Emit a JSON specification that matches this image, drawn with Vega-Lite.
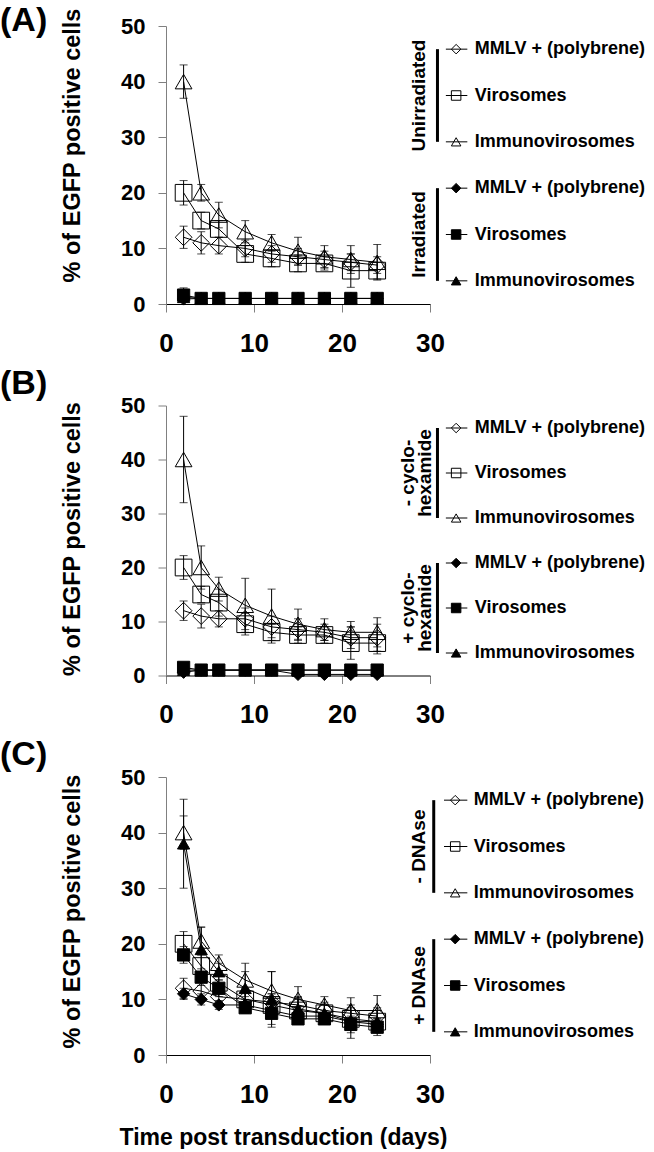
{
  "$schema": "https://vega.github.io/schema/vega-lite/v6.json",
  "background": "white",
  "padding": {"left": 0, "top": 3, "right": 0, "bottom": 0},
  "bounds": "flush",
  "columns": 2,
  "spacing": {"row": 101.5, "column": 0},
  "datasets": {
    "pts": [
      {"p":"A","c":"o","s":"MMLV","d":2,"v":12,"e":2},{"p":"A","c":"o","s":"MMLV","d":4,"v":11,"e":2},{"p":"A","c":"o","s":"MMLV","d":6,"v":10.5,"e":1.5},{"p":"A","c":"o","s":"MMLV","d":9,"v":10,"e":1.5},{"p":"A","c":"o","s":"MMLV","d":12,"v":9,"e":1.5},{"p":"A","c":"o","s":"MMLV","d":15,"v":8.5,"e":1.5},{"p":"A","c":"o","s":"MMLV","d":18,"v":8,"e":1.5},{"p":"A","c":"o","s":"MMLV","d":21,"v":7.5,"e":1.5},{"p":"A","c":"o","s":"MMLV","d":24,"v":7,"e":1.5},
      {"p":"A","c":"o","s":"Viro","d":2,"v":20,"e":2.2},{"p":"A","c":"o","s":"Viro","d":4,"v":15,"e":1.5},{"p":"A","c":"o","s":"Viro","d":6,"v":13.5,"e":1.5},{"p":"A","c":"o","s":"Viro","d":9,"v":9,"e":1.5},{"p":"A","c":"o","s":"Viro","d":12,"v":8.2,"e":1.5},{"p":"A","c":"o","s":"Viro","d":15,"v":7.3,"e":1.5},{"p":"A","c":"o","s":"Viro","d":18,"v":7.3,"e":1.2},{"p":"A","c":"o","s":"Viro","d":21,"v":6,"e":3},{"p":"A","c":"o","s":"Viro","d":24,"v":6,"e":1.5},
      {"p":"A","c":"o","s":"Immuno","d":2,"v":40,"e":3},{"p":"A","c":"o","s":"Immuno","d":4,"v":20,"e":1.5},{"p":"A","c":"o","s":"Immuno","d":6,"v":16,"e":2.3},{"p":"A","c":"o","s":"Immuno","d":9,"v":13,"e":2},{"p":"A","c":"o","s":"Immuno","d":12,"v":11,"e":1.5},{"p":"A","c":"o","s":"Immuno","d":15,"v":9.5,"e":2.5},{"p":"A","c":"o","s":"Immuno","d":18,"v":8.5,"e":2},{"p":"A","c":"o","s":"Immuno","d":21,"v":8,"e":2.5},{"p":"A","c":"o","s":"Immuno","d":24,"v":7.5,"e":3.2},
      {"p":"A","c":"f","s":"MMLV","d":2,"v":0.9,"e":0},{"p":"A","c":"f","s":"MMLV","d":4,"v":1,"e":0},{"p":"A","c":"f","s":"MMLV","d":6,"v":1,"e":0},{"p":"A","c":"f","s":"MMLV","d":9,"v":1,"e":0},{"p":"A","c":"f","s":"MMLV","d":12,"v":1,"e":0},{"p":"A","c":"f","s":"MMLV","d":15,"v":1,"e":0},{"p":"A","c":"f","s":"MMLV","d":18,"v":1,"e":0},{"p":"A","c":"f","s":"MMLV","d":21,"v":1,"e":0},{"p":"A","c":"f","s":"MMLV","d":24,"v":1,"e":0},
      {"p":"A","c":"f","s":"Immuno","d":2,"v":1.2,"e":0},{"p":"A","c":"f","s":"Immuno","d":4,"v":1,"e":0},{"p":"A","c":"f","s":"Immuno","d":6,"v":1,"e":0},{"p":"A","c":"f","s":"Immuno","d":9,"v":1,"e":0},{"p":"A","c":"f","s":"Immuno","d":12,"v":1,"e":0},{"p":"A","c":"f","s":"Immuno","d":15,"v":1,"e":0},{"p":"A","c":"f","s":"Immuno","d":18,"v":1,"e":0},{"p":"A","c":"f","s":"Immuno","d":21,"v":1,"e":0},{"p":"A","c":"f","s":"Immuno","d":24,"v":1,"e":0},
      {"p":"A","c":"f","s":"Viro","d":2,"v":1.6,"e":1.3},{"p":"A","c":"f","s":"Viro","d":4,"v":1,"e":0},{"p":"A","c":"f","s":"Viro","d":6,"v":1,"e":0},{"p":"A","c":"f","s":"Viro","d":9,"v":1,"e":0},{"p":"A","c":"f","s":"Viro","d":12,"v":1,"e":0},{"p":"A","c":"f","s":"Viro","d":15,"v":1,"e":0},{"p":"A","c":"f","s":"Viro","d":18,"v":1,"e":0},{"p":"A","c":"f","s":"Viro","d":21,"v":1,"e":0},{"p":"A","c":"f","s":"Viro","d":24,"v":1,"e":0},

      {"p":"B","c":"o","s":"MMLV","d":2,"v":12,"e":1.8},{"p":"B","c":"o","s":"MMLV","d":4,"v":11,"e":2.2},{"p":"B","c":"o","s":"MMLV","d":6,"v":10.5,"e":1.5},{"p":"B","c":"o","s":"MMLV","d":9,"v":10.5,"e":2},{"p":"B","c":"o","s":"MMLV","d":12,"v":9,"e":2},{"p":"B","c":"o","s":"MMLV","d":15,"v":8.5,"e":2},{"p":"B","c":"o","s":"MMLV","d":18,"v":8,"e":1.5},{"p":"B","c":"o","s":"MMLV","d":21,"v":7,"e":2},{"p":"B","c":"o","s":"MMLV","d":24,"v":7,"e":2.5},
      {"p":"B","c":"o","s":"Viro","d":2,"v":20,"e":2.2},{"p":"B","c":"o","s":"Viro","d":4,"v":15,"e":1.5},{"p":"B","c":"o","s":"Viro","d":6,"v":13.5,"e":2.5},{"p":"B","c":"o","s":"Viro","d":9,"v":9.5,"e":2},{"p":"B","c":"o","s":"Viro","d":12,"v":8,"e":1.5},{"p":"B","c":"o","s":"Viro","d":15,"v":7.5,"e":1.5},{"p":"B","c":"o","s":"Viro","d":18,"v":7.5,"e":1.5},{"p":"B","c":"o","s":"Viro","d":21,"v":6,"e":3},{"p":"B","c":"o","s":"Viro","d":24,"v":6,"e":2},
      {"p":"B","c":"o","s":"Immuno","d":2,"v":40,"e":8},{"p":"B","c":"o","s":"Immuno","d":4,"v":20,"e":4},{"p":"B","c":"o","s":"Immuno","d":6,"v":16,"e":2.2},{"p":"B","c":"o","s":"Immuno","d":9,"v":13,"e":5},{"p":"B","c":"o","s":"Immuno","d":12,"v":11,"e":5},{"p":"B","c":"o","s":"Immuno","d":15,"v":9.5,"e":2.8},{"p":"B","c":"o","s":"Immuno","d":18,"v":8.5,"e":2},{"p":"B","c":"o","s":"Immuno","d":21,"v":8,"e":2},{"p":"B","c":"o","s":"Immuno","d":24,"v":8,"e":2.7},
      {"p":"B","c":"f","s":"Immuno","d":2,"v":1,"e":0},{"p":"B","c":"f","s":"Immuno","d":4,"v":1,"e":0},{"p":"B","c":"f","s":"Immuno","d":6,"v":1,"e":0},{"p":"B","c":"f","s":"Immuno","d":9,"v":1,"e":0},{"p":"B","c":"f","s":"Immuno","d":12,"v":1,"e":0},{"p":"B","c":"f","s":"Immuno","d":15,"v":1,"e":0},{"p":"B","c":"f","s":"Immuno","d":18,"v":1,"e":0},{"p":"B","c":"f","s":"Immuno","d":21,"v":1,"e":0},{"p":"B","c":"f","s":"Immuno","d":24,"v":1,"e":0},
      {"p":"B","c":"f","s":"MMLV","d":2,"v":0.6,"e":0},{"p":"B","c":"f","s":"MMLV","d":4,"v":1,"e":0},{"p":"B","c":"f","s":"MMLV","d":6,"v":1,"e":0},{"p":"B","c":"f","s":"MMLV","d":9,"v":1,"e":0},{"p":"B","c":"f","s":"MMLV","d":12,"v":1,"e":0},{"p":"B","c":"f","s":"MMLV","d":15,"v":0.2,"e":0},{"p":"B","c":"f","s":"MMLV","d":18,"v":0.2,"e":0},{"p":"B","c":"f","s":"MMLV","d":21,"v":0.2,"e":0},{"p":"B","c":"f","s":"MMLV","d":24,"v":0.2,"e":0},
      {"p":"B","c":"f","s":"Viro","d":2,"v":1.5,"e":0},{"p":"B","c":"f","s":"Viro","d":4,"v":1,"e":0},{"p":"B","c":"f","s":"Viro","d":6,"v":1,"e":0},{"p":"B","c":"f","s":"Viro","d":9,"v":1,"e":0},{"p":"B","c":"f","s":"Viro","d":12,"v":1,"e":0},{"p":"B","c":"f","s":"Viro","d":15,"v":1,"e":0},{"p":"B","c":"f","s":"Viro","d":18,"v":1,"e":0},{"p":"B","c":"f","s":"Viro","d":21,"v":1,"e":0},{"p":"B","c":"f","s":"Viro","d":24,"v":1,"e":0},

      {"p":"C","c":"o","s":"MMLV","d":2,"v":12,"e":1.8},{"p":"C","c":"o","s":"MMLV","d":4,"v":11.5,"e":1.8},{"p":"C","c":"o","s":"MMLV","d":6,"v":10.5,"e":1.5},{"p":"C","c":"o","s":"MMLV","d":9,"v":10,"e":1.5},{"p":"C","c":"o","s":"MMLV","d":12,"v":9.5,"e":1.5},{"p":"C","c":"o","s":"MMLV","d":15,"v":9,"e":1.5},{"p":"C","c":"o","s":"MMLV","d":18,"v":8,"e":1.5},{"p":"C","c":"o","s":"MMLV","d":21,"v":7.5,"e":1.5},{"p":"C","c":"o","s":"MMLV","d":24,"v":7,"e":1.5},
      {"p":"C","c":"o","s":"Viro","d":2,"v":20,"e":2.2},{"p":"C","c":"o","s":"Viro","d":4,"v":16,"e":2},{"p":"C","c":"o","s":"Viro","d":6,"v":13,"e":2},{"p":"C","c":"o","s":"Viro","d":9,"v":10,"e":2},{"p":"C","c":"o","s":"Viro","d":12,"v":9,"e":2},{"p":"C","c":"o","s":"Viro","d":15,"v":8,"e":2},{"p":"C","c":"o","s":"Viro","d":18,"v":7.5,"e":1.5},{"p":"C","c":"o","s":"Viro","d":21,"v":6.5,"e":2},{"p":"C","c":"o","s":"Viro","d":24,"v":6,"e":2},
      {"p":"C","c":"o","s":"Immuno","d":2,"v":40,"e":3},{"p":"C","c":"o","s":"Immuno","d":4,"v":20.5,"e":2.5},{"p":"C","c":"o","s":"Immuno","d":6,"v":16.5,"e":1.5},{"p":"C","c":"o","s":"Immuno","d":9,"v":13.5,"e":3},{"p":"C","c":"o","s":"Immuno","d":12,"v":11.5,"e":3.5},{"p":"C","c":"o","s":"Immuno","d":15,"v":10,"e":2.3},{"p":"C","c":"o","s":"Immuno","d":18,"v":9,"e":1.5},{"p":"C","c":"o","s":"Immuno","d":21,"v":8,"e":2.3},{"p":"C","c":"o","s":"Immuno","d":24,"v":8,"e":2.7},
      {"p":"C","c":"f","s":"MMLV","d":2,"v":11,"e":1},{"p":"C","c":"f","s":"MMLV","d":4,"v":10,"e":1},{"p":"C","c":"f","s":"MMLV","d":6,"v":9,"e":0.8},{"p":"C","c":"f","s":"MMLV","d":9,"v":9,"e":1},{"p":"C","c":"f","s":"MMLV","d":12,"v":8,"e":1},{"p":"C","c":"f","s":"MMLV","d":15,"v":7,"e":1},{"p":"C","c":"f","s":"MMLV","d":18,"v":7,"e":1},{"p":"C","c":"f","s":"MMLV","d":21,"v":6,"e":1},{"p":"C","c":"f","s":"MMLV","d":24,"v":5.5,"e":1},
      {"p":"C","c":"f","s":"Viro","d":2,"v":18,"e":1.5},{"p":"C","c":"f","s":"Viro","d":4,"v":14,"e":1.5},{"p":"C","c":"f","s":"Viro","d":6,"v":12,"e":1.5},{"p":"C","c":"f","s":"Viro","d":9,"v":8.5,"e":1},{"p":"C","c":"f","s":"Viro","d":12,"v":7.5,"e":2},{"p":"C","c":"f","s":"Viro","d":15,"v":6.5,"e":1},{"p":"C","c":"f","s":"Viro","d":18,"v":6.5,"e":1},{"p":"C","c":"f","s":"Viro","d":21,"v":5.5,"e":2.5},{"p":"C","c":"f","s":"Viro","d":24,"v":5,"e":1.5},
      {"p":"C","c":"f","s":"Immuno","d":2,"v":38,"e":8},{"p":"C","c":"f","s":"Immuno","d":4,"v":19,"e":4},{"p":"C","c":"f","s":"Immuno","d":6,"v":15,"e":1.5},{"p":"C","c":"f","s":"Immuno","d":9,"v":12,"e":3},{"p":"C","c":"f","s":"Immuno","d":12,"v":10,"e":5},{"p":"C","c":"f","s":"Immuno","d":15,"v":8.3,"e":2},{"p":"C","c":"f","s":"Immuno","d":18,"v":7.5,"e":1.5},{"p":"C","c":"f","s":"Immuno","d":21,"v":6,"e":2},{"p":"C","c":"f","s":"Immuno","d":24,"v":6,"e":2}
    ],
    "leg": [
      {"p":"A","row":0,"c":"o","s":"MMLV","label":"MMLV + (polybrene)"},{"p":"A","row":1,"c":"o","s":"Viro","label":"Virosomes"},{"p":"A","row":2,"c":"o","s":"Immuno","label":"Immunovirosomes"},
      {"p":"A","row":3,"c":"f","s":"MMLV","label":"MMLV + (polybrene)"},{"p":"A","row":4,"c":"f","s":"Viro","label":"Virosomes"},{"p":"A","row":5,"c":"f","s":"Immuno","label":"Immunovirosomes"},
      {"p":"B","row":0,"c":"o","s":"MMLV","label":"MMLV + (polybrene)"},{"p":"B","row":1,"c":"o","s":"Viro","label":"Virosomes"},{"p":"B","row":2,"c":"o","s":"Immuno","label":"Immunovirosomes"},
      {"p":"B","row":3,"c":"f","s":"MMLV","label":"MMLV + (polybrene)"},{"p":"B","row":4,"c":"f","s":"Viro","label":"Virosomes"},{"p":"B","row":5,"c":"f","s":"Immuno","label":"Immunovirosomes"},
      {"p":"C","row":0,"c":"o","s":"MMLV","label":"MMLV + (polybrene)"},{"p":"C","row":1,"c":"o","s":"Viro","label":"Virosomes"},{"p":"C","row":2,"c":"o","s":"Immuno","label":"Immunovirosomes"},
      {"p":"C","row":3,"c":"f","s":"MMLV","label":"MMLV + (polybrene)"},{"p":"C","row":4,"c":"f","s":"Viro","label":"Virosomes"},{"p":"C","row":5,"c":"f","s":"Immuno","label":"Immunovirosomes"}
    ],
    "grp": [
      {"p":"A","g":"Unirradiated","mid":1,"r0":0,"r1":2},{"p":"A","g":"Irradiated","mid":4,"r0":3,"r1":5},
      {"p":"B","g":"- cyclo-\nhexamide","mid":1,"r0":0,"r1":2},{"p":"B","g":"+ cyclo-\nhexamide","mid":4,"r0":3,"r1":5},
      {"p":"C","g":"- DNAse","mid":1,"r0":0,"r1":2},{"p":"C","g":"+ DNAse","mid":4,"r0":3,"r1":5}
    ]
  },
  "concat": [
    {
      "width": 264, "height": 278,
      "title": {"text": "(A)", "offset": -30},
      "data": {"name": "pts"},
      "transform": [{"filter": "datum.p == 'A'"}],
      "encoding": {
        "x": {"field": "d", "type": "quantitative", "scale": {"domain": [0, 30], "nice": false}, "axis": {"values": [0, 10, 20, 30], "title": null}},
        "y": {"field": "v", "type": "quantitative", "scale": {"domain": [0, 50], "nice": false}, "axis": {"values": [0, 10, 20, 30, 40, 50], "title": "% of EGFP positive cells", "titleY": 119}}
      },
      "layer": [
        {"mark": {"type": "line", "color": "black", "strokeWidth": 1}, "encoding": {"detail": [{"field": "c"}, {"field": "s"}]}},
        {"mark": {"type": "errorbar", "color": "black", "thickness": 1, "ticks": {"size": 8, "thickness": 1, "color": "black"}}, "encoding": {"yError": {"field": "e"}}},
        {"mark": {"type": "point", "filled": true, "fill": "black", "stroke": "black", "strokeWidth": 1, "opacity": 1},
         "encoding": {
           "shape": {"field": "s", "type": "nominal", "scale": {"domain": ["MMLV", "Viro", "Immuno"], "range": ["diamond", "square", "triangle-up"]}, "legend": null},
           "fillOpacity": {"field": "c", "type": "nominal", "scale": {"domain": ["o", "f"], "range": [0, 1]}, "legend": null},
           "size": {"field": "c", "type": "nominal", "scale": {"domain": ["o", "f"], "range": [280, 150]}, "legend": null}
         }}
      ]
    },
    {
      "width": 224, "height": 278,
      "layer": [
        {"data": {"name": "leg"}, "transform": [{"filter": "datum.p == 'A'"}], "mark": {"type": "rule", "color": "black", "strokeWidth": 1},
         "encoding": {"x": {"datum": 17, "type": "quantitative", "scale": {"domain": [0, 224]}, "axis": null}, "x2": {"datum": 40},
                      "y": {"field": "row", "type": "quantitative", "scale": {"domain": [-0.13, 5.22], "reverse": true}, "axis": null}}},
        {"data": {"name": "leg"}, "transform": [{"filter": "datum.p == 'A'"}], "mark": {"type": "point", "filled": true, "fill": "black", "stroke": "black", "strokeWidth": 1, "size": 90, "opacity": 1},
         "encoding": {"x": {"datum": 28, "type": "quantitative"}, "y": {"field": "row", "type": "quantitative"},
                      "shape": {"field": "s", "type": "nominal", "legend": null},
                      "fillOpacity": {"field": "c", "type": "nominal", "legend": null}}},
        {"data": {"name": "leg"}, "transform": [{"filter": "datum.p == 'A'"}], "mark": {"type": "text", "align": "left", "baseline": "middle", "font": "Liberation Sans", "fontSize": 18, "fontWeight": "bold", "color": "black"},
         "encoding": {"x": {"datum": 48, "type": "quantitative"}, "y": {"field": "row", "type": "quantitative"}, "text": {"field": "label"}}},
        {"data": {"name": "grp"}, "transform": [{"filter": "datum.p == 'A'"}], "mark": {"type": "rule", "color": "black", "strokeWidth": 3},
         "encoding": {"x": {"datum": 8, "type": "quantitative"}, "y": {"field": "r0", "type": "quantitative"}, "y2": {"field": "r1"}}},
        {"data": {"name": "grp"}, "transform": [{"filter": "datum.p == 'A'"}], "mark": {"type": "text", "angle": 270, "align": "center", "baseline": "middle", "lineBreak": "\n", "lineHeight": 17, "font": "Liberation Sans", "fontSize": 19, "fontWeight": "bold", "color": "black"},
         "encoding": {"x": {"datum": -12, "type": "quantitative"}, "y": {"field": "mid", "type": "quantitative"}, "text": {"field": "g"}}}
      ]
    },
    {
      "width": 264, "height": 270,
      "title": {"text": "(B)", "offset": -6},
      "data": {"name": "pts"},
      "transform": [{"filter": "datum.p == 'B'"}],
      "encoding": {
        "x": {"field": "d", "type": "quantitative", "scale": {"domain": [0, 30], "nice": false}, "axis": {"values": [0, 10, 20, 30], "title": null}},
        "y": {"field": "v", "type": "quantitative", "scale": {"domain": [0, 50], "nice": false}, "axis": {"values": [0, 10, 20, 30, 40, 50], "title": "% of EGFP positive cells", "titleY": 133}}
      },
      "layer": [
        {"mark": {"type": "line", "color": "black", "strokeWidth": 1}, "encoding": {"detail": [{"field": "c"}, {"field": "s"}]}},
        {"mark": {"type": "errorbar", "color": "black", "thickness": 1, "ticks": {"size": 8, "thickness": 1, "color": "black"}}, "encoding": {"yError": {"field": "e"}}},
        {"mark": {"type": "point", "filled": true, "fill": "black", "stroke": "black", "strokeWidth": 1, "opacity": 1},
         "encoding": {
           "shape": {"field": "s", "type": "nominal", "legend": null},
           "fillOpacity": {"field": "c", "type": "nominal", "legend": null},
           "size": {"field": "c", "type": "nominal", "legend": null}
         }}
      ]
    },
    {
      "width": 224, "height": 270,
      "layer": [
        {"data": {"name": "leg"}, "transform": [{"filter": "datum.p == 'B'"}], "mark": {"type": "rule", "color": "black", "strokeWidth": 1},
         "encoding": {"x": {"datum": 17, "type": "quantitative", "scale": {"domain": [0, 224]}, "axis": null}, "x2": {"datum": 40},
                      "y": {"field": "row", "type": "quantitative", "scale": {"domain": [-0.156, 5.097], "reverse": true}, "axis": null}}},
        {"data": {"name": "leg"}, "transform": [{"filter": "datum.p == 'B'"}], "mark": {"type": "point", "filled": true, "fill": "black", "stroke": "black", "strokeWidth": 1, "size": 90, "opacity": 1},
         "encoding": {"x": {"datum": 28, "type": "quantitative"}, "y": {"field": "row", "type": "quantitative"},
                      "shape": {"field": "s", "type": "nominal", "legend": null},
                      "fillOpacity": {"field": "c", "type": "nominal", "legend": null}}},
        {"data": {"name": "leg"}, "transform": [{"filter": "datum.p == 'B'"}], "mark": {"type": "text", "align": "left", "baseline": "middle", "font": "Liberation Sans", "fontSize": 18, "fontWeight": "bold", "color": "black"},
         "encoding": {"x": {"datum": 48, "type": "quantitative"}, "y": {"field": "row", "type": "quantitative"}, "text": {"field": "label"}}},
        {"data": {"name": "grp"}, "transform": [{"filter": "datum.p == 'B'"}], "mark": {"type": "rule", "color": "black", "strokeWidth": 3},
         "encoding": {"x": {"datum": 8, "type": "quantitative"}, "y": {"field": "r0", "type": "quantitative"}, "y2": {"field": "r1"}}},
        {"data": {"name": "grp"}, "transform": [{"filter": "datum.p == 'B'"}], "mark": {"type": "text", "angle": 270, "align": "center", "baseline": "middle", "lineBreak": "\n", "lineHeight": 17, "font": "Liberation Sans", "fontSize": 19, "fontWeight": "bold", "color": "black"},
         "encoding": {"x": {"datum": -24, "type": "quantitative"}, "y": {"field": "mid", "type": "quantitative"}, "text": {"field": "g"}}}
      ]
    },
    {
      "width": 264, "height": 278,
      "title": {"text": "(C)", "offset": -6},
      "data": {"name": "pts"},
      "transform": [{"filter": "datum.p == 'C'"}],
      "encoding": {
        "x": {"field": "d", "type": "quantitative", "scale": {"domain": [0, 30], "nice": false}, "axis": {"values": [0, 10, 20, 30], "title": "Time post transduction (days)"}},
        "y": {"field": "v", "type": "quantitative", "scale": {"domain": [0, 50], "nice": false}, "axis": {"values": [0, 10, 20, 30, 40, 50], "title": "% of EGFP positive cells", "titleY": 134}}
      },
      "layer": [
        {"mark": {"type": "line", "color": "black", "strokeWidth": 1}, "encoding": {"detail": [{"field": "c"}, {"field": "s"}]}},
        {"mark": {"type": "errorbar", "color": "black", "thickness": 1, "ticks": {"size": 8, "thickness": 1, "color": "black"}}, "encoding": {"yError": {"field": "e"}}},
        {"mark": {"type": "point", "filled": true, "fill": "black", "stroke": "black", "strokeWidth": 1, "opacity": 1},
         "encoding": {
           "shape": {"field": "s", "type": "nominal", "legend": null},
           "fillOpacity": {"field": "c", "type": "nominal", "legend": null},
           "size": {"field": "c", "type": "nominal", "legend": null}
         }}
      ]
    },
    {
      "width": 224, "height": 278,
      "layer": [
        {"data": {"name": "leg"}, "transform": [{"filter": "datum.p == 'C'"}], "mark": {"type": "rule", "color": "black", "strokeWidth": 1},
         "encoding": {"x": {"datum": 15, "type": "quantitative", "scale": {"domain": [0, 224]}, "axis": null}, "x2": {"datum": 40},
                      "y": {"field": "row", "type": "quantitative", "scale": {"domain": [-0.13, 5.22], "reverse": true}, "axis": null}}},
        {"data": {"name": "leg"}, "transform": [{"filter": "datum.p == 'C'"}], "mark": {"type": "point", "filled": true, "fill": "black", "stroke": "black", "strokeWidth": 1, "size": 90, "opacity": 1},
         "encoding": {"x": {"datum": 27, "type": "quantitative"}, "y": {"field": "row", "type": "quantitative"},
                      "shape": {"field": "s", "type": "nominal", "legend": null},
                      "fillOpacity": {"field": "c", "type": "nominal", "legend": null}}},
        {"data": {"name": "leg"}, "transform": [{"filter": "datum.p == 'C'"}], "mark": {"type": "text", "align": "left", "baseline": "middle", "font": "Liberation Sans", "fontSize": 18, "fontWeight": "bold", "color": "black"},
         "encoding": {"x": {"datum": 47, "type": "quantitative"}, "y": {"field": "row", "type": "quantitative"}, "text": {"field": "label"}}},
        {"data": {"name": "grp"}, "transform": [{"filter": "datum.p == 'C'"}], "mark": {"type": "rule", "color": "black", "strokeWidth": 3},
         "encoding": {"x": {"datum": 4, "type": "quantitative"}, "y": {"field": "r0", "type": "quantitative"}, "y2": {"field": "r1"}}},
        {"data": {"name": "grp"}, "transform": [{"filter": "datum.p == 'C'"}], "mark": {"type": "text", "angle": 270, "align": "center", "baseline": "middle", "lineBreak": "\n", "lineHeight": 17, "font": "Liberation Sans", "fontSize": 19, "fontWeight": "bold", "color": "black"},
         "encoding": {"x": {"datum": -12, "type": "quantitative"}, "y": {"field": "mid", "type": "quantitative"}, "text": {"field": "g"}}}
      ]
    }
  ],
  "config": {
    "view": {"stroke": null},
    "font": "Liberation Sans",
    "title": {"font": "Liberation Sans", "fontSize": 34, "fontWeight": "bold", "color": "black", "anchor": "start", "frame": "group", "dx": -166, "baseline": "alphabetic"},
    "axisY": {"domainColor": "#808080", "tickColor": "#808080", "tickSize": 8, "labelFont": "Liberation Sans", "labelFontSize": 22, "labelFontWeight": "bold", "labelColor": "black", "labelPadding": 13, "grid": false,
              "titleFont": "Liberation Sans", "titleFontSize": 23.5, "titleFontWeight": "bold", "titleColor": "black", "titleX": -94, "titleAngle": 270, "titleAlign": "center", "titleBaseline": "middle"},
    "axisX": {"domainColor": "black", "tickColor": "#808080", "tickSize": 8, "labelFont": "Liberation Sans", "labelFontSize": 26, "labelFontWeight": "bold", "labelColor": "black", "labelBaseline": "middle", "labelPadding": 31, "labelFlush": false, "grid": false,
              "titleFont": "Liberation Sans", "titleFontSize": 23, "titleFontWeight": "bold", "titleColor": "black", "titleX": 117, "titleY": 82, "titleAlign": "center", "titleBaseline": "middle"}
  }
}
